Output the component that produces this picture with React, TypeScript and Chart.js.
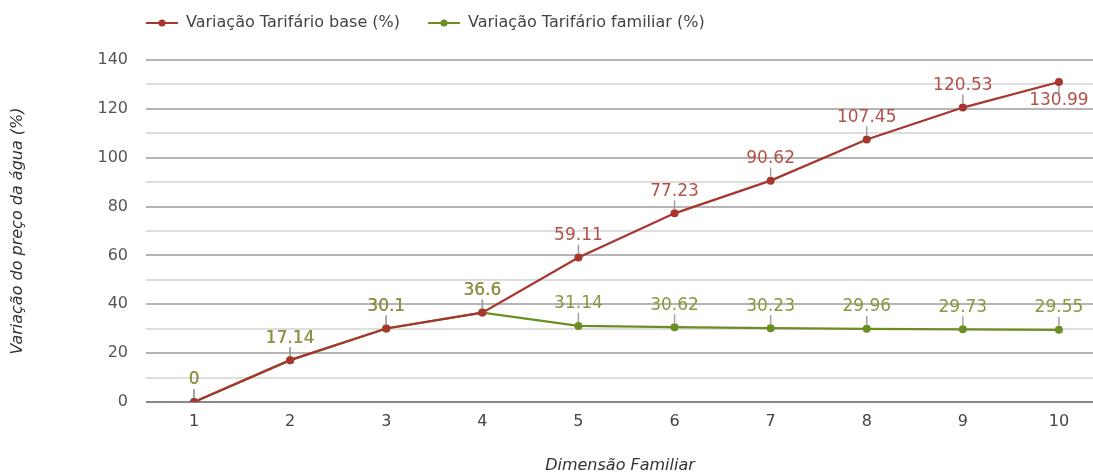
import React, { useEffect, useRef } from "react";
import { Chart, registerables } from "chart.js";

Chart.register(...registerables);

const categories = [1, 2, 3, 4, 5, 6, 7, 8, 9, 10];
const baseValues = [0, 17.14, 30.1, 36.6, 59.11, 77.23, 90.62, 107.45, 120.53, 130.99];
const familyValues = [0, 17.14, 30.1, 36.6, 31.14, 30.62, 30.23, 29.96, 29.73, 29.55];
const seriesNames = ["Variação Tarifário base (%)", "Variação Tarifário familiar (%)"];
const xTitle = "Dimensão Familiar";
const yTitle = "Variação do preço da água (%)";

const FONT = "'DejaVu Sans', sans-serif";
const lineColors = ["#a6362e", "#6b8e23"];
const labelColors = ["#b4504a", "#86993f"];

const labelsPlugin = {
  id: "pointLabels",
  afterDatasetsDraw(chart: any) {
    const ctx = chart.ctx;
    const top = chart.chartArea.top;
    ctx.save();
    ctx.font = `17px ${FONT}`;
    ctx.textAlign = "center";
    ctx.textBaseline = "middle";
    chart.data.datasets.forEach((ds: any, di: number) => {
      const meta = chart.getDatasetMeta(di);
      meta.data.forEach((pt: any, i: number) => {
        const v = ds.data[i].y;
        const below = pt.y - top < 30;
        const dir = below ? 1 : -1;
        ctx.strokeStyle = "#a0a0a0";
        ctx.lineWidth = 1.5;
        ctx.beginPath();
        ctx.moveTo(pt.x, pt.y + dir * 4);
        ctx.lineTo(pt.x, pt.y + dir * 13);
        ctx.stroke();
        ctx.fillStyle = labelColors[di];
        ctx.fillText(String(v), pt.x, pt.y + dir * (below ? 19 : 22));
      });
    });
    ctx.restore();
  },
};

const legendPlugin = {
  id: "customLegend",
  afterDraw(chart: any) {
    const ctx = chart.ctx;
    ctx.save();
    ctx.font = `16px ${FONT}`;
    ctx.textBaseline = "middle";
    ctx.textAlign = "left";
    let x = 146;
    const y = 23;
    seriesNames.forEach((name, i) => {
      ctx.strokeStyle = lineColors[i];
      ctx.lineWidth = 2;
      ctx.beginPath();
      ctx.moveTo(x, y);
      ctx.lineTo(x + 32, y);
      ctx.stroke();
      ctx.fillStyle = lineColors[i];
      ctx.beginPath();
      ctx.arc(x + 16, y, 3.5, 0, Math.PI * 2);
      ctx.fill();
      ctx.fillStyle = "#444444";
      ctx.fillText(name, x + 40, y);
      x += 40 + ctx.measureText(name).width + 28;
    });
    ctx.restore();
  },
};

export default function App() {
  const ref = useRef<HTMLCanvasElement | null>(null);
  useEffect(() => {
    document.body.style.margin = "0";
    document.body.style.overflow = "hidden";
    if (!ref.current) return;
    const chart = new Chart(ref.current, {
      type: "line",
      data: {
        datasets: [
          {
            label: seriesNames[0],
            data: categories.map((c, i) => ({ x: c, y: baseValues[i] })),
            borderColor: lineColors[0],
            backgroundColor: lineColors[0],
            borderWidth: 2.2,
            pointRadius: 4,
            pointBorderWidth: 0,
          },
          {
            label: seriesNames[1],
            data: categories.map((c, i) => ({ x: c, y: familyValues[i] })),
            borderColor: lineColors[1],
            backgroundColor: lineColors[1],
            borderWidth: 2.2,
            pointRadius: 4,
            pointBorderWidth: 0,
          },
        ],
      },
      options: {
        animation: false,
        responsive: false,
        devicePixelRatio: 1,
        layout: { padding: { top: 60, left: 0, right: 0, bottom: 0 } },
        plugins: { legend: { display: false }, tooltip: { enabled: false } },
        scales: {
          x: {
            type: "linear",
            min: 0.5,
            max: 10.365,
            afterBuildTicks: (scale: any) => {
              scale.ticks = categories.map((v) => ({ value: v }));
            },
            afterFit: (scale: any) => {
              scale.height = 73;
            },
            grid: { display: false, drawTicks: false },
            border: { display: false },
            ticks: {
              padding: 10,
              color: "#444444",
              font: { family: FONT, size: 16 },
              callback: (v: any) => String(v),
            },
            title: {
              display: true,
              text: xTitle,
              color: "#333333",
              font: { family: FONT, size: 16, style: "italic" },
              padding: { top: 0, bottom: 0 },
            },
          },
          y: {
            min: 0,
            max: 140,
            afterFit: (scale: any) => {
              scale.width = 146;
            },
            ticks: {
              stepSize: 10,
              padding: 18,
              color: "#555555",
              font: { family: FONT, size: 16 },
              callback: (v: any) => (Number(v) % 20 === 0 ? String(v) : ""),
            },
            grid: {
              drawTicks: false,
              lineWidth: 2,
              color: (c: any) =>
                c.tick.value === 0 ? "#888888" : c.tick.value % 20 === 0 ? "#b5b5b5" : "#dedede",
            },
            border: { display: false },
            title: {
              display: true,
              text: yTitle,
              color: "#333333",
              font: { family: FONT, size: 16, style: "italic" },
              padding: { top: 8, bottom: 0 },
            },
          },
        },
      },
      plugins: [labelsPlugin, legendPlugin],
    } as any);
    return () => chart.destroy();
  }, []);
  return (
    <div style={{ width: 1093, height: 475, overflow: "hidden" }}>
      <canvas ref={ref} width={1098} height={475} style={{ display: "block" }} />
    </div>
  );
}
